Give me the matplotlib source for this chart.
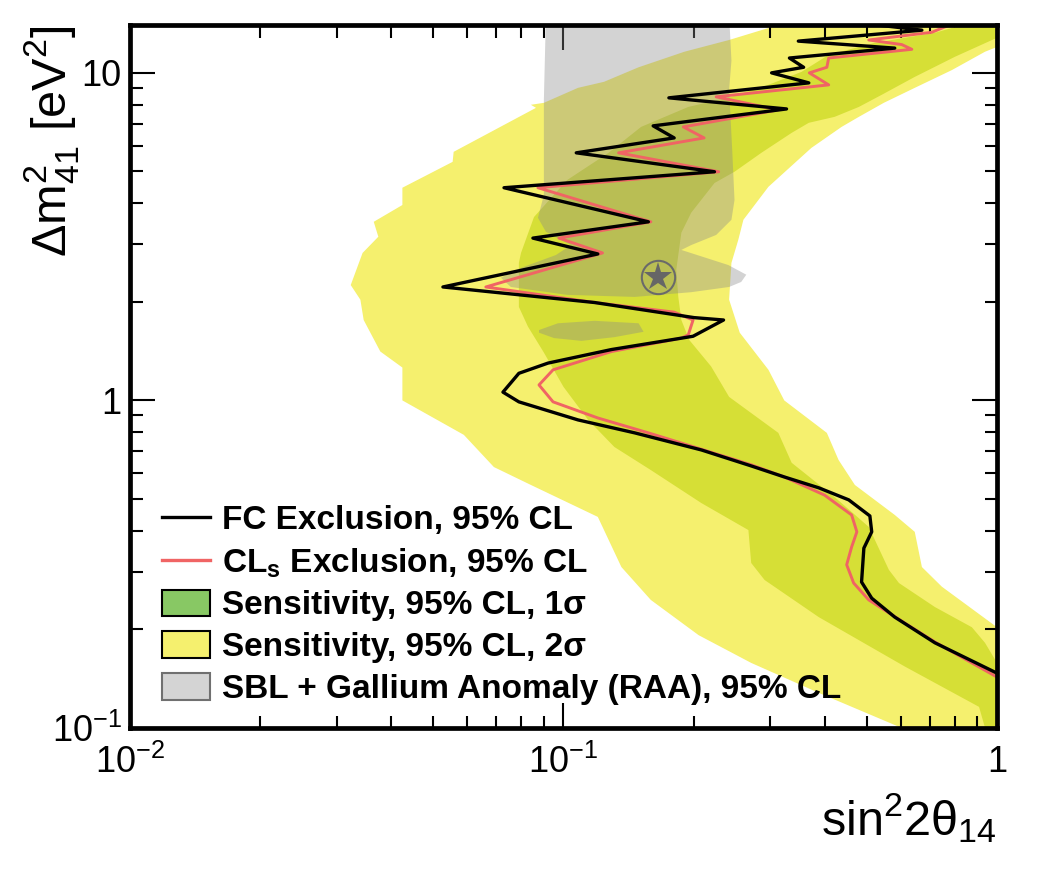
import matplotlib
matplotlib.use("Agg")
import matplotlib.pyplot as plt
from matplotlib.lines import Line2D
from matplotlib.patches import Patch
from matplotlib.ticker import LogLocator, NullFormatter

plt.rcParams["font.family"] = ["Liberation Sans", "DejaVu Sans"]
plt.rcParams["mathtext.fontset"] = "custom"
plt.rcParams["mathtext.rm"] = "Liberation Sans"
plt.rcParams["mathtext.it"] = "Liberation Sans"
plt.rcParams["mathtext.bf"] = "Liberation Sans:bold"

# FC exclusion contour, 95% CL (sin^2 2theta14, dm^2_41)
fc_x = [0.506, 0.671, 0.348, 0.581, 0.332, 0.358, 0.302, 0.368, 0.175, 0.327,
        0.161, 0.180, 0.107, 0.223, 0.0729, 0.157, 0.0850, 0.120, 0.0527, 0.118,
        0.200, 0.234, 0.199, 0.129, 0.0921, 0.0789, 0.0725, 0.0789, 0.108, 0.146,
        0.208, 0.271, 0.323, 0.388, 0.455, 0.509, 0.514, 0.493, 0.487, 0.514,
        0.581, 0.719, 1.0]
fc_y = [14.1, 13.5, 12.5, 11.9, 11.1, 10.4, 10.0, 9.32, 8.39, 7.76,
        6.89, 6.33, 5.70, 4.99, 4.46, 3.51, 3.13, 2.80, 2.22, 1.99,
        1.79, 1.76, 1.57, 1.43, 1.30, 1.21, 1.06, 0.99, 0.872, 0.796,
        0.706, 0.631, 0.584, 0.541, 0.497, 0.444, 0.397, 0.354, 0.279, 0.249,
        0.218, 0.182, 0.147]

# CLs exclusion contour, 95% CL
cls_x = [0.787, 0.707, 0.506, 0.603, 0.636, 0.409, 0.405, 0.369, 0.409, 0.225,
         0.313, 0.189, 0.211, 0.134, 0.228, 0.0873, 0.159, 0.0976, 0.123, 0.0662,
         0.118, 0.180, 0.199, 0.194, 0.187, 0.129, 0.0946, 0.0878, 0.0946, 0.120,
         0.157, 0.200, 0.271, 0.323, 0.400, 0.462, 0.475, 0.462, 0.450, 0.467,
         0.506, 0.613, 0.719, 1.0]
cls_y = [14.1, 13.3, 12.6, 12.2, 11.8, 11.1, 10.4, 10.0, 9.19, 8.45,
         7.71, 6.84, 6.33, 5.70, 4.99, 4.46, 3.51, 3.13, 2.82, 2.22,
         1.99, 1.86, 1.76, 1.585, 1.55, 1.41, 1.24, 1.115, 0.99, 0.884,
         0.796, 0.721, 0.636, 0.584, 0.514, 0.447, 0.397, 0.357, 0.315, 0.277,
         0.246, 0.209, 0.183, 0.143]

# sensitivity band, 2 sigma (outline of the region)
band2_x = [0.0841, 0.0901, 0.108, 0.124, 0.149, 0.190, 0.241, 0.313, 0.313, 1.05,
           1.05, 1.0, 0.938, 0.787, 0.646, 0.548, 0.480, 0.438, 0.373, 0.297,
           0.260, 0.253, 0.244, 0.241, 0.255, 0.297, 0.323, 0.405, 0.431, 0.470,
           0.581, 0.646, 0.671, 0.746, 1.0, 1.05, 1.05, 0.603, 0.603, 0.388,
           0.271, 0.205, 0.159, 0.136, 0.120, 0.0841, 0.0691, 0.0589, 0.0425, 0.0425,
           0.0378, 0.0346, 0.0340, 0.0323, 0.0344, 0.0374, 0.0365, 0.0425, 0.0425, 0.0555,
           0.0558, 0.0864]
band2_y = [7.99, 8.10, 9.00, 9.39, 10.4, 11.6, 12.6, 14.0, 15.0, 15.0,
           12.0, 12.0, 11.6, 10.2, 9.00, 8.10, 7.34, 6.84, 5.90, 4.49,
           3.56, 3.09, 2.63, 2.03, 1.61, 1.24, 1.00, 0.796, 0.658, 0.552,
           0.447, 0.397, 0.310, 0.270, 0.203, 0.203, 0.09, 0.09, 0.1, 0.128,
           0.158, 0.192, 0.246, 0.310, 0.441, 0.552, 0.626, 0.785, 1.00, 1.26,
           1.41, 1.76, 2.03, 2.25, 2.82, 3.16, 3.51, 3.95, 4.46, 5.35,
           5.74, 7.82]

# sensitivity band, 1 sigma
band1_x = [0.87, 0.83, 0.719, 0.522, 0.409, 0.354, 0.297, 0.244, 0.194, 0.151,
           0.127, 0.102, 0.0855, 0.0798, 0.0789, 0.0789, 0.0828, 0.0901, 0.100, 0.114,
           0.131, 0.159, 0.208, 0.267, 0.271, 0.291, 0.388, 0.613, 0.909, 0.96,
           1.05, 1.05, 1.0, 0.938, 0.875, 0.719, 0.594, 0.563, 0.506, 0.422,
           0.336, 0.313, 0.241, 0.219, 0.195, 0.187, 0.184, 0.182, 0.187, 0.197,
           0.223, 0.248, 0.286, 0.336, 0.368, 0.422, 0.480, 0.542, 0.646, 0.800,
           1.0, 1.05, 1.05]
band1_y = [15.0, 14.0, 13.25, 12.35, 11.35, 10.07, 9.19, 8.45, 7.87, 6.84,
           5.70, 4.71, 3.63, 2.82, 2.63, 1.93, 1.68, 1.40, 1.10, 0.872,
           0.721, 0.613, 0.486, 0.402, 0.319, 0.283, 0.218, 0.154, 0.116, 0.09,
           0.09, 0.158, 0.158, 0.182, 0.203, 0.234, 0.277, 0.304, 0.411, 0.507,
           0.645, 0.796, 1.025, 1.27, 1.53, 1.76, 2.07, 2.50, 3.25, 3.74,
           4.61, 4.99, 5.70, 6.56, 7.04, 7.34, 7.87, 8.57, 9.72, 11.2,
           12.8, 12.8, 15.0]

# SBL + Gallium anomaly (RAA) allowed region, 95% CL
raa_x = [0.0911, 0.241, 0.244, 0.241, 0.245, 0.248, 0.244, 0.225, 0.197, 0.187,
         0.240, 0.264, 0.257, 0.241, 0.197, 0.146, 0.102, 0.0756, 0.0717, 0.0798,
         0.0961, 0.104, 0.0911, 0.0873, 0.0901, 0.0901]
raa_y = [15.0, 15.0, 10.9, 8.87, 5.82, 4.09, 3.56, 3.20, 2.98, 2.88,
         2.59, 2.42, 2.30, 2.22, 2.14, 2.07, 2.10, 2.22, 2.37, 2.54,
         2.78, 2.98, 3.27, 3.61, 4.24, 8.27]
raa_island_x = [0.0878, 0.0971, 0.118, 0.149, 0.153, 0.131, 0.110, 0.0951, 0.0878]
raa_island_y = [1.64, 1.72, 1.75, 1.72, 1.62, 1.56, 1.52, 1.55, 1.61]

best_fit_x = 0.165
best_fit_y = 2.38

legend_labels = ["FC Exclusion, 95% CL",
                 r"CL$_\mathbf{s}$ Exclusion, 95% CL",
                 "Sensitivity, 95% CL, 1σ",
                 "Sensitivity, 95% CL, 2σ",
                 "SBL + Gallium Anomaly (RAA), 95% CL"]

c_2sig = "#F5F06E"
c_1sig = "#D6DF36"
c_1sig_leg = "#88C864"
c_red = "#F06464"

fig = plt.figure(figsize=(10.44, 8.71), dpi=100)
ax = fig.add_axes([0.1245, 0.1642, 0.8305, 0.8071])

ax.fill(band2_x, band2_y, color=c_2sig, lw=0, zorder=1)
ax.fill(band1_x, band1_y, color=c_1sig, lw=0, zorder=2)
ax.fill(raa_x, raa_y, color="#888888", alpha=0.37, lw=0, zorder=3)
ax.fill(raa_island_x, raa_island_y, color="#888888", alpha=0.37, lw=0, zorder=3)

ax.plot(fc_x, fc_y, color="black", lw=2.4, zorder=5)
ax.plot(cls_x, cls_y, color=c_red, lw=2.1, zorder=4)

ax.plot(best_fit_x, best_fit_y, marker="o", ms=24, mfc="none", mec="#6A6A6A", mew=1.5, zorder=6)
ax.plot(best_fit_x, best_fit_y, marker="*", ms=21, color="#666666", mew=0, zorder=6)

ax.set_xscale("log")
ax.set_yscale("log")
ax.set_xlim(0.01, 1)
ax.set_ylim(0.1, 14.0)

ax.set_xticks([0.01, 0.1, 1], [r"$10^{-2}$", r"$10^{-1}$", "1"])
ax.set_yticks([0.1, 1, 10], [r"$10^{-1}$", "1", "10"])
ax.xaxis.set_minor_locator(LogLocator(base=10, subs=range(2, 10)))
ax.yaxis.set_minor_locator(LogLocator(base=10, subs=range(2, 10)))
ax.xaxis.set_minor_formatter(NullFormatter())
ax.yaxis.set_minor_formatter(NullFormatter())

ax.tick_params(which="both", direction="in", top=True, right=True, width=1.5, labelsize=26)
ax.tick_params(which="major", length=18)
ax.tick_params(which="minor", length=9)
ax.tick_params(axis="x", which="major", pad=12)
ax.tick_params(axis="y", which="major", pad=6)
for sp in ax.spines.values():
    sp.set_linewidth(3.4)
    sp.set_zorder(10)

ax.set_xlabel(r"sin$^2$2$\theta_{14}$", fontsize=35, ha="right")
ax.xaxis.set_label_coords(1.0, -0.09)
ax.set_ylabel(r"$\Delta$m$^2_{41}$ [eV$^2$]", fontsize=35, loc="top")
ax.yaxis.set_label_coords(-0.056, 1.0)

handles = [Line2D([], [], color="black", lw=2.4),
           Line2D([], [], color=c_red, lw=2.4),
           Patch(facecolor=c_1sig_leg, edgecolor="black", lw=1.5),
           Patch(facecolor=c_2sig, edgecolor="black", lw=1.5),
           Patch(facecolor="#D4D4D4", edgecolor="#707070", lw=1.5)]
ax.legend(handles, legend_labels, loc="upper left", bbox_to_anchor=(0.037, 0.318),
          frameon=False, prop={"weight": "bold", "size": 24},
          handlelength=1.45, handleheight=0.85, handletextpad=0.36,
          labelspacing=0.3, borderpad=0, borderaxespad=0)

fig.savefig("out.png", dpi=100)
